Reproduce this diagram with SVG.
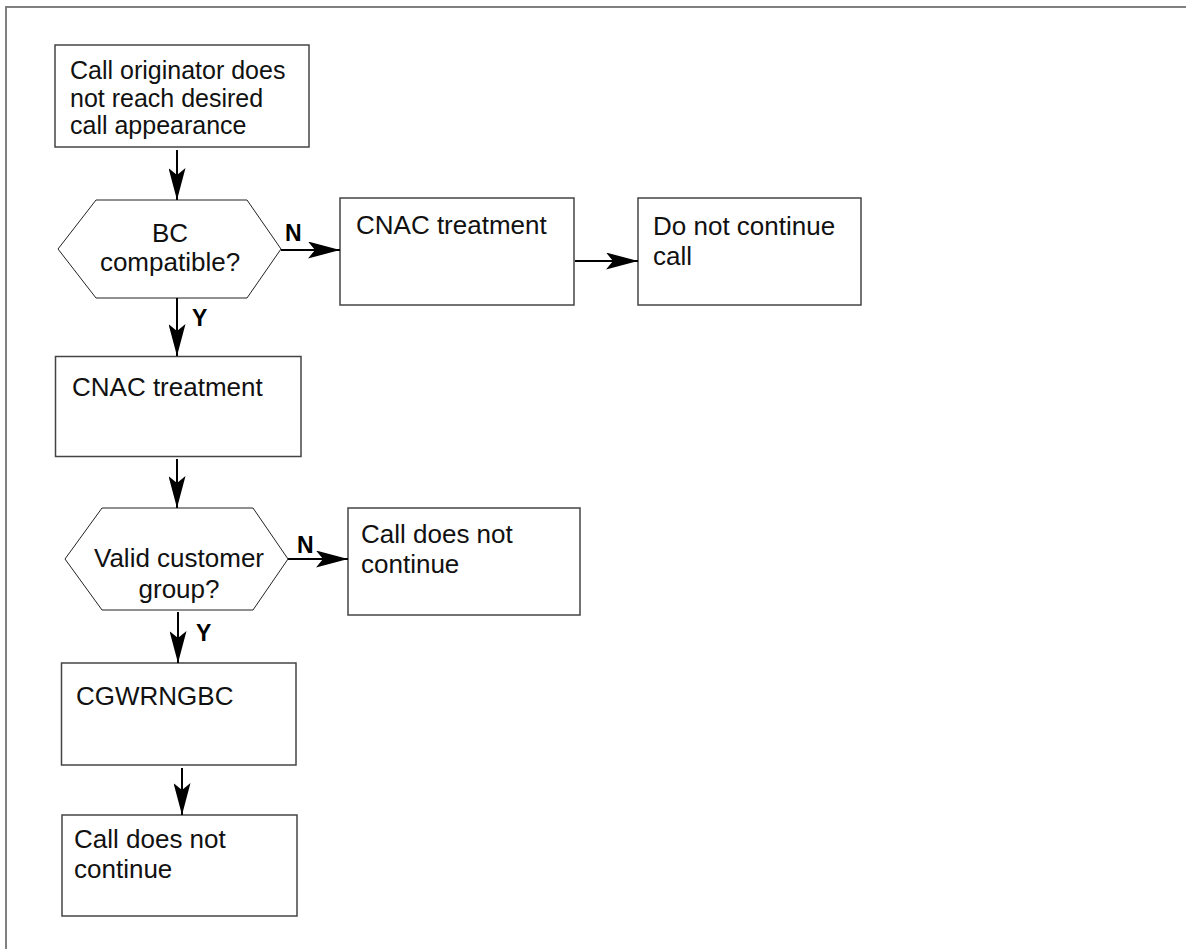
<svg xmlns="http://www.w3.org/2000/svg" width="1186" height="949" viewBox="0 0 1186 949">
<defs>
<style>
.box{fill:#fff;stroke:#444;stroke-width:1.5}
.hex{fill:#fff;stroke:#222;stroke-width:1}
.frame{fill:none;stroke:#808080;stroke-width:2}
.t{font-family:"Liberation Sans",Arial,sans-serif;font-size:26px;fill:#111}
.c{text-anchor:middle}
.lbl{font-family:"Liberation Sans",Arial,sans-serif;font-size:23px;font-weight:bold;fill:#000}
.ln{stroke:#000;stroke-width:2;fill:none}
</style>
<marker id="ah" viewBox="0 0 32 17" refX="32" refY="8.5" markerWidth="32" markerHeight="17" markerUnits="userSpaceOnUse" orient="auto">
<path d="M0,0 L32,8.5 L0,17 L7,8.5 Z" fill="#000"/>
</marker>
</defs>
<rect width="1186" height="949" fill="#fff"/>
<path class="frame" d="M6,949 L6,7 L1186,7"/>
<g id="n1"><rect class="box" x="55" y="45" width="254" height="102"/>
<text class="t" x="70" y="79" style="font-size:25px">Call originator does</text>
<text class="t" x="70" y="106.5" style="font-size:25px">not reach desired</text>
<text class="t" x="70" y="134" style="font-size:25px">call appearance</text></g>
<g id="n2"><polygon class="hex" points="58,249 96,200 247,200 281,249 247,298 96,298"/>
<text class="t c" x="170" y="242">BC</text>
<text class="t c" x="170" y="271">compatible?</text></g>
<g id="n3"><rect class="box" x="340" y="198" width="234" height="107"/>
<text class="t" x="356" y="234">CNAC treatment</text></g>
<g id="n4"><rect class="box" x="638" y="198" width="223" height="107"/>
<text class="t" x="653" y="235">Do not continue</text>
<text class="t" x="653" y="265">call</text></g>
<g id="n5"><rect class="box" x="55.5" y="356.5" width="245.5" height="100"/>
<text class="t" x="72" y="396">CNAC treatment</text></g>
<g id="n6"><polygon class="hex" points="65,559 102,508 253,508 288,559 253,610 102,610"/>
<text class="t c" x="179" y="567">Valid customer</text>
<text class="t c" x="179" y="598">group?</text></g>
<g id="n7"><rect class="box" x="348" y="508" width="232" height="107"/>
<text class="t" x="361" y="543">Call does not</text>
<text class="t" x="361" y="573">continue</text></g>
<g id="n8"><rect class="box" x="61.5" y="663" width="234.5" height="102"/>
<text class="t" x="76" y="705">CGWRNGBC</text></g>
<g id="n9"><rect class="box" x="62" y="815" width="235" height="101"/>
<text class="t" x="74" y="848">Call does not</text>
<text class="t" x="74" y="878">continue</text></g>
<g id="connectors">
<line class="ln" x1="177" y1="150" x2="177" y2="200" marker-end="url(#ah)"/>
<line class="ln" x1="281" y1="250" x2="340" y2="250" marker-end="url(#ah)"/>
<line class="ln" x1="575" y1="261" x2="638" y2="261" marker-end="url(#ah)"/>
<line class="ln" x1="177" y1="298" x2="177" y2="356" marker-end="url(#ah)"/>
<line class="ln" x1="177" y1="459" x2="177" y2="508" marker-end="url(#ah)"/>
<line class="ln" x1="288" y1="559" x2="348" y2="559" marker-end="url(#ah)"/>
<line class="ln" x1="178" y1="612" x2="178" y2="663" marker-end="url(#ah)"/>
<line class="ln" x1="182" y1="768" x2="182" y2="815" marker-end="url(#ah)"/>
<text class="lbl" x="285" y="241">N</text>
<text class="lbl" x="192" y="326">Y</text>
<text class="lbl" x="297" y="553">N</text>
<text class="lbl" x="196" y="641">Y</text>
</g>
</svg>
